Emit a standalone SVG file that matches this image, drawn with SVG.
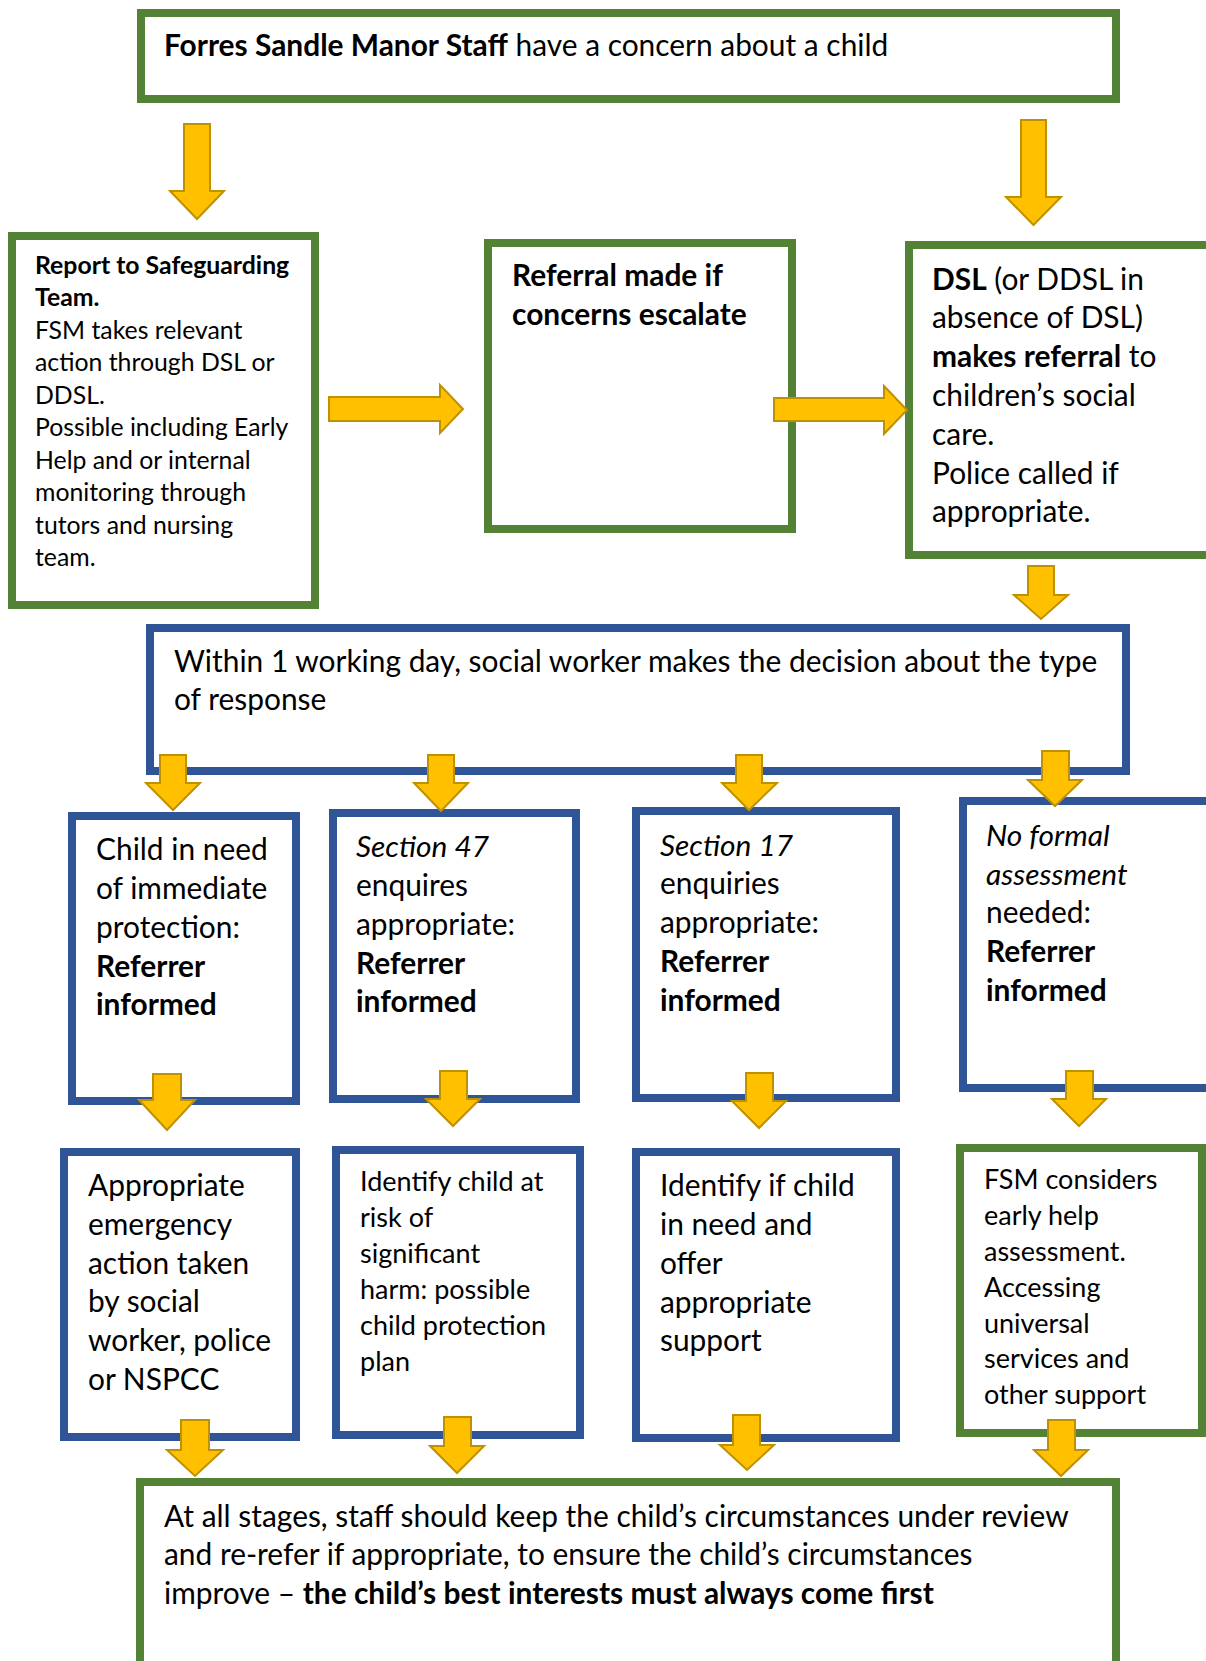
<svg xmlns="http://www.w3.org/2000/svg" width="1206" height="1661" viewBox="0 0 1206 1661">
<style>
.g{fill:#fff;stroke:#548235;stroke-width:8}
.b{fill:#fff;stroke:#2F5597;stroke-width:8}
.arr{fill:#FFC000;stroke:#BF9000;stroke-width:2;stroke-linejoin:miter}
text{font-family:Lato,"Open Sans","Liberation Sans",sans-serif;fill:#000}
.L{font-size:29.9px}
.M{font-size:27px}
.S{font-size:24.8px}
.bd{font-weight:bold}
.it{font-style:italic}
</style>
<rect width="1206" height="1661" fill="#fff"/>
<g id="node-top">
<rect class="g" x="141" y="13" width="975" height="86"/>
<text class="L" x="164" y="56"><tspan class="bd">Forres Sandle Manor Staff</tspan> have a concern about a child</text>
</g>
<g id="node-report">
<rect class="g" x="12" y="236" width="303" height="369"/>
<text class="S" x="35"><tspan class="bd" x="35" y="274">Report to Safeguarding</tspan><tspan class="bd" x="35" y="306">Team.</tspan><tspan x="35" y="339">FSM takes relevant</tspan><tspan x="35" y="371">action through DSL or</tspan><tspan x="35" y="404">DDSL.</tspan><tspan x="35" y="436">Possible including Early</tspan><tspan x="35" y="469">Help and or internal</tspan><tspan x="35" y="501">monitoring through</tspan><tspan x="35" y="534">tutors and nursing</tspan><tspan x="35" y="566">team.</tspan></text>
</g>
<g id="node-referral">
<rect class="g" x="488" y="243" width="304" height="286"/>
<text class="L bd"><tspan x="512" y="286">Referral made if</tspan><tspan x="512" y="325">concerns escalate</tspan></text>
</g>
<g id="node-dsl">
<rect class="g" x="909" y="245" width="330" height="310"/>
<text class="L"><tspan x="932" y="290"><tspan class="bd">DSL</tspan> (or DDSL in</tspan><tspan x="932" y="328">absence of DSL)</tspan><tspan x="932" y="367"><tspan class="bd">makes referral</tspan> to</tspan><tspan x="932" y="406">children’s social</tspan><tspan x="932" y="445">care.</tspan><tspan x="932" y="484">Police called if</tspan><tspan x="932" y="522">appropriate.</tspan></text>
</g>
<g id="node-within">
<rect class="b" x="150" y="628" width="976" height="143"/>
<text class="L"><tspan x="174" y="672">Within 1 working day, social worker makes the decision about the type</tspan><tspan x="174" y="710">of response</tspan></text>
</g>
<g id="node-immediate">
<rect class="b" x="72" y="816" width="224" height="285"/>
<text class="L"><tspan x="96" y="860">Child in need</tspan><tspan x="96" y="899">of immediate</tspan><tspan x="96" y="938">protection:</tspan><tspan class="bd" x="96" y="977">Referrer</tspan><tspan class="bd" x="96" y="1015">informed</tspan></text>
</g>
<g id="node-s47">
<rect class="b" x="333" y="813" width="243" height="286"/>
<text class="L"><tspan class="it" x="356" y="857">Section 47</tspan><tspan x="356" y="896">enquires</tspan><tspan x="356" y="935">appropriate:</tspan><tspan class="bd" x="356" y="974">Referrer</tspan><tspan class="bd" x="356" y="1012">informed</tspan></text>
</g>
<g id="node-s17">
<rect class="b" x="636" y="811" width="260" height="287"/>
<text class="L"><tspan class="it" x="660" y="856">Section 17</tspan><tspan x="660" y="894">enquiries</tspan><tspan x="660" y="933">appropriate:</tspan><tspan class="bd" x="660" y="972">Referrer</tspan><tspan class="bd" x="660" y="1011">informed</tspan></text>
</g>
<g id="node-noformal">
<rect class="b" x="963" y="801" width="280" height="287"/>
<text class="L"><tspan class="it" x="986" y="846">No formal</tspan><tspan class="it" x="986" y="885">assessment</tspan><tspan x="986" y="923">needed:</tspan><tspan class="bd" x="986" y="962">Referrer</tspan><tspan class="bd" x="986" y="1001">informed</tspan></text>
</g>
<g id="node-emergency">
<rect class="b" x="64" y="1152" width="232" height="285"/>
<text class="L"><tspan x="88" y="1196">Appropriate</tspan><tspan x="88" y="1235">emergency</tspan><tspan x="88" y="1274">action taken</tspan><tspan x="88" y="1312">by social</tspan><tspan x="88" y="1351">worker, police</tspan><tspan x="88" y="1390">or NSPCC</tspan></text>
</g>
<g id="node-risk">
<rect class="b" x="336" y="1150" width="244" height="285"/>
<text class="M"><tspan x="360" y="1191">Identify child at</tspan><tspan x="360" y="1227">risk of</tspan><tspan x="360" y="1263">significant</tspan><tspan x="360" y="1299">harm: possible</tspan><tspan x="360" y="1335">child protection</tspan><tspan x="360" y="1371">plan</tspan></text>
</g>
<g id="node-need">
<rect class="b" x="636" y="1152" width="260" height="286"/>
<text class="L"><tspan x="660" y="1196">Identify if child</tspan><tspan x="660" y="1235">in need and</tspan><tspan x="660" y="1274">offer</tspan><tspan x="660" y="1313">appropriate</tspan><tspan x="660" y="1351">support</tspan></text>
</g>
<g id="node-earlyhelp">
<rect class="g" x="960" y="1148" width="242" height="285"/>
<text class="M"><tspan x="984" y="1189">FSM considers</tspan><tspan x="984" y="1225">early help</tspan><tspan x="984" y="1261">assessment.</tspan><tspan x="984" y="1297">Accessing</tspan><tspan x="984" y="1333">universal</tspan><tspan x="984" y="1368">services and</tspan><tspan x="984" y="1404">other support</tspan></text>
</g>
<g id="node-bottom">
<rect class="g" x="140" y="1482" width="976" height="260"/>
<text class="L"><tspan x="164" y="1527">At all stages, staff should keep the child’s circumstances under review</tspan><tspan x="164" y="1565">and re-refer if appropriate, to ensure the child’s circumstances</tspan><tspan x="164" y="1604">improve – <tspan class="bd">the child’s best interests must always come first</tspan></tspan></text>
</g>
<g id="connectors">
<path class="arr" d="M184 124H210V191H224L197 219L170 191H184Z"/>
<path class="arr" d="M1021 120H1046V197H1061L1033.5 225L1006 197H1021Z"/>
<path class="arr" d="M329 397H440V385L463 409L440 433V421H329Z"/>
<path class="arr" d="M774 398H884V386L907 410L884 434V421H774Z"/>
<path class="arr" d="M1028 566H1054V595H1068L1041 619L1014 595H1028Z"/>
<path class="arr" d="M160 755H186V783H200L173 810L146 783H160Z"/>
<path class="arr" d="M428 755H454V783H468L441 811L414 783H428Z"/>
<path class="arr" d="M736 755H762V783H777L749 810L722 783H736Z"/>
<path class="arr" d="M1042 751H1069V780H1082L1055 806L1028 780H1042Z"/>
<path class="arr" d="M153 1074H181V1100H195L167 1130L139 1100H153Z"/>
<path class="arr" d="M440 1071H467V1099H480L453 1126L426 1099H440Z"/>
<path class="arr" d="M746 1073H773V1101H786L759 1128L732 1101H746Z"/>
<path class="arr" d="M1066 1071H1093V1099H1106L1079 1126L1052 1099H1066Z"/>
<path class="arr" d="M181 1420H209V1450H223L195 1476L167 1450H181Z"/>
<path class="arr" d="M444 1417H471V1446H484L457 1473L430 1446H444Z"/>
<path class="arr" d="M733 1415H760V1445H774L747 1470L720 1445H733Z"/>
<path class="arr" d="M1048 1420H1075V1450H1088L1061 1476L1034 1450H1048Z"/>
</g>
</svg>
